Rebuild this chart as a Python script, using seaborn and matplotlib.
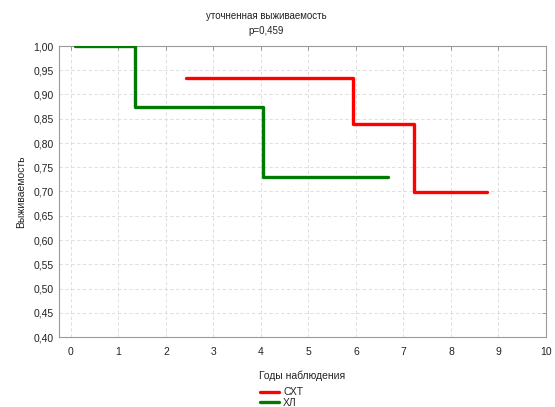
import matplotlib
matplotlib.use("Agg")
import matplotlib.pyplot as plt
import seaborn as sns
import pandas as pd
from matplotlib.ticker import FuncFormatter, MultipleLocator

# Kaplan-Meier style step curves (time in years, survival fraction)
sxt_time = [2.42, 5.94, 5.94, 7.22, 7.22, 8.76]
sxt_surv = [0.933, 0.933, 0.840, 0.840, 0.700, 0.700]
hl_time = [0.08, 1.35, 1.35, 4.04, 4.04, 6.67]
hl_surv = [1.000, 1.000, 0.875, 0.875, 0.729, 0.729]
group_names = ["СХТ", "ХЛ"]
group_colors = ["#ff0000", "#007a00"]

frames = []
for name, t, s in zip(group_names, [sxt_time, hl_time], [sxt_surv, hl_surv]):
    frames.append(pd.DataFrame({"t": t, "s": s, "group": name}))
df = pd.concat(frames, ignore_index=True)

sns.set_style("white")
plt.rcParams["font.family"] = ["Liberation Sans", "DejaVu Sans"]

fig = plt.figure(figsize=(5.55, 4.07), dpi=100)
ax = fig.add_axes([59 / 555, 1 - 337 / 407, (546 - 59) / 555, (337 - 46) / 407])

sns.lineplot(data=df, x="t", y="s", hue="group", estimator=None, sort=False,
             palette=dict(zip(group_names, group_colors)),
             linewidth=2.4, ax=ax, legend=False, zorder=3)

ax.set_xlim(-0.25, 10)
ax.set_ylim(0.40, 1.00)
ax.xaxis.set_major_locator(MultipleLocator(1))
ax.yaxis.set_major_locator(MultipleLocator(0.05))
ax.yaxis.set_major_formatter(FuncFormatter(lambda v, p: f"{v:.2f}".replace(".", ",")))
ax.xaxis.set_major_formatter(FuncFormatter(lambda v, p: f"{v:.0f}"))
ax.grid(True, color="#d9d9d9", linestyle=(0, (4, 3)), linewidth=0.6)
ax.tick_params(direction="in", length=3, width=0.6, color="#888888",
               top=True, right=True, labelsize=7.5, pad=4, labelcolor="#222222")
ax.tick_params(axis="x", pad=7)
for sp in ax.spines.values():
    sp.set_color("#9a9a9a")
    sp.set_linewidth(0.8)

ax.set_xlabel("Годы наблюдения", fontsize=7.5, labelpad=10, color="#222222")
ax.set_ylabel("Выживаемость", fontsize=7.5, labelpad=5, color="#222222")
fig.text(266 / 555, 1 - 16 / 407, "уточненная выживаемость", ha="center", va="center",
         fontsize=7, color="#222222")
fig.text(266 / 555, 1 - 31 / 407, "p=0,459", ha="center", va="center",
         fontsize=7, color="#222222")

handles = [plt.Line2D([], [], color=c, linewidth=2.4) for c in group_colors]
fig.legend(handles, group_names, loc="upper left",
           bbox_to_anchor=(255 / 555, 1 - 382 / 407), frameon=False,
           fontsize=7.5, handlelength=1.8, handletextpad=0.4, labelspacing=0.05,
           borderpad=0)

fig.savefig("out.png", dpi=100)
